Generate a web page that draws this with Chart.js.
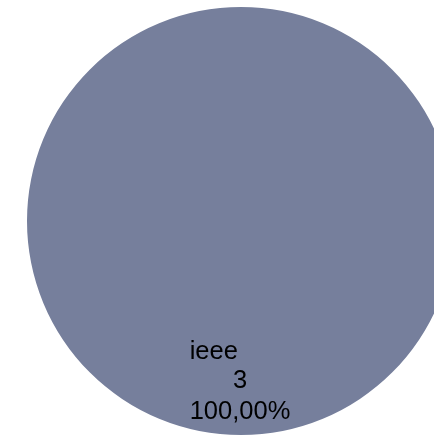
<!DOCTYPE html>
<html>
<head>
<meta charset="utf-8">
<script src="https://cdn.jsdelivr.net/npm/chart.js@4"></script>
<style>
  html, body { margin: 0; padding: 0; background: #fff; overflow: hidden; }
  #wrap { position: relative; width: 456px; height: 435px; }
</style>
</head>
<body>
<div id="wrap"><canvas id="pie"></canvas></div>
<script>
  // Datos
  const labels = ["ieee"];
  const values = [3];
  const colors = ["#767f9c"];

  const pct = (v) => (v / values.reduce((a, b) => a + b, 0) * 100).toFixed(2).replace(".", ",") + "%";

  // Etiqueta de datos dentro del sector: nombre, valor y porcentaje
  const sliceLabels = {
    id: "sliceLabels",
    afterDatasetsDraw(chart) {
      const ctx = chart.ctx;
      const meta = chart.getDatasetMeta(0);
      ctx.save();
      ctx.font = "25.5px 'Liberation Sans', Arial, sans-serif";
      ctx.fillStyle = "#000";
      ctx.textBaseline = "alphabetic";
      meta.data.forEach((arc, i) => {
        const cx = arc.x - 1;
        const cy = arc.y + arc.outerRadius * 0.745;
        const lines = [labels[i], String(values[i]), pct(values[i])];
        const w = ctx.measureText(lines[2]).width;
        ctx.textAlign = "left";
        ctx.fillText(lines[0], cx - w / 2, cy - 21);
        ctx.textAlign = "center";
        ctx.fillText(lines[1], cx, cy + 8);
        ctx.fillText(lines[2], cx, cy + 39);
      });
      ctx.restore();
    },
  };

  new Chart(document.getElementById("pie"), {
    type: "pie",
    data: { labels, datasets: [{ data: values, backgroundColor: colors, borderWidth: 0 }] },
    options: {
      responsive: true, maintainAspectRatio: false, animation: false,
      layout: { padding: { left: 27, right: 1, top: 7, bottom: 0 } },
      plugins: { legend: { display: false }, tooltip: { enabled: false } },
    },
    plugins: [sliceLabels],
  });
</script>
</body>
</html>
